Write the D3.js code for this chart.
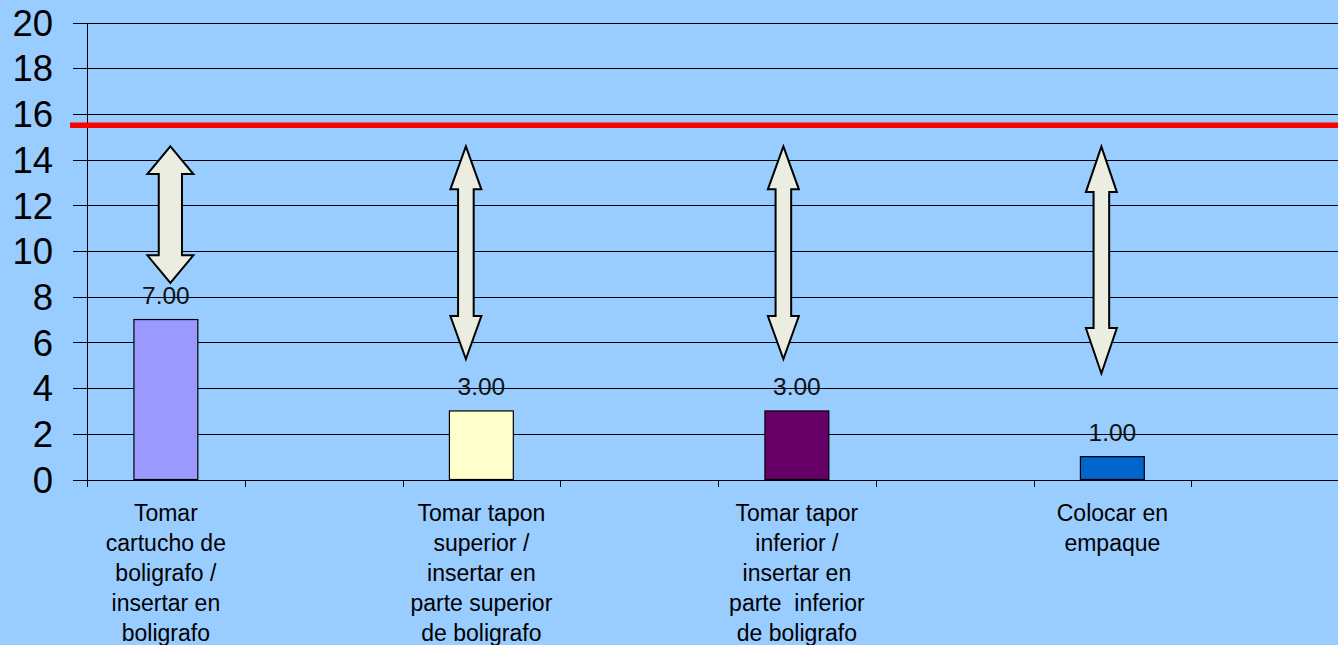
<!DOCTYPE html>
<html>
<head>
<meta charset="utf-8">
<script src="https://cdn.jsdelivr.net/npm/d3@7"></script>
<style>
  html, body { margin: 0; padding: 0; background: #99CCFF; overflow: hidden; }
  svg { display: block; font-family: "Liberation Sans", Arial, sans-serif; }
</style>
</head>
<body>
<svg id="chart" width="1338" height="645"></svg>
<script>
// ---- data ----
const categories = ["c0", "c1", "c2", "c3", "c4", "c5", "c6", "c7"];
const categoryLabels = [
  ["Tomar", "cartucho de", "boligrafo /", "insertar en", "boligrafo"],
  [],
  ["Tomar tapon", "superior /", "insertar en", "parte superior", "de boligrafo"],
  [],
  ["Tomar tapor", "inferior /", "insertar en", "parte  inferior", "de boligrafo"],
  [],
  ["Colocar en", "empaque"],
  []
];
const values = [7, null, 3, null, 3, null, 1, null];
const barColors = ["#9999FF", null, "#FFFFCC", null, "#660066", null, "#0066CC", null];
const yTicks = [0, 2, 4, 6, 8, 10, 12, 14, 16, 18, 20];
const limitValue = 15.5;
// double arrows (annotation): category, top value, bottom value
const arrowCats = ["c0", "c2", "c4", "c6"];
const arrowTops = [14.58, 14.58, 14.58, 14.57];
const arrowBottoms = [8.6, 5.27, 5.27, 4.64];

// ---- layout / style ----
const W = 1338, H = 645;
const mLeft = 87, mTop = 22.5, mBottom = 479.5, mRight = 87 + 8 * 157.75;
const arrowStyle = [
  { dx: 4.5, head: 27.7, hw: 23, sw: 11.6 },
  { dx: -15.5, head: 43, hw: 15.5, sw: 7.8 },
  { dx: -13.5, head: 43, hw: 15.5, sw: 7.8 },
  { dx: -11, head: 45.5, hw: 15.5, sw: 7.8 }
];

const svg = d3.select("#chart");
svg.append("rect").attr("width", W).attr("height", H).attr("fill", "#99CCFF");

const y = d3.scaleLinear().domain([0, 20]).range([mBottom, mTop]);
const x = d3.scaleBand().domain(categories).range([mLeft, mRight]).padding(0);
const xIdx = d3.scaleLinear().domain([0, categories.length]).range([mLeft, mRight]);
const bw = x.bandwidth();
const barW = bw * 0.405;

// gridlines
svg.append("g")
  .attr("transform", `translate(${mLeft},0)`)
  .call(d3.axisLeft(y).tickValues(yTicks).tickSize(-(mRight - mLeft)).tickFormat(""))
  .call(g => g.select(".domain").remove())
  .call(g => g.selectAll("line").attr("stroke", "#000").attr("stroke-width", 1).attr("shape-rendering", "crispEdges"));

// y axis
svg.append("g")
  .attr("transform", `translate(${mLeft},0)`)
  .call(d3.axisLeft(y).tickValues(yTicks).tickSize(14).tickSizeOuter(0).tickPadding(20).tickFormat(d3.format("d")))
  .call(g => g.select(".domain").attr("stroke", "#000").attr("shape-rendering", "crispEdges"))
  .call(g => g.selectAll("line").attr("stroke", "#000").attr("shape-rendering", "crispEdges"))
  .call(g => g.selectAll("text").attr("font-size", 36.5).attr("fill", "#000")
      .attr("font-family", "'Liberation Sans', Arial, sans-serif").attr("dy", "0.35em"));

// x axis (ticks at category boundaries)
svg.append("g")
  .attr("transform", `translate(0,${mBottom})`)
  .call(d3.axisBottom(xIdx).tickValues(d3.range(0, categories.length + 1)).tickSize(7).tickSizeOuter(0).tickFormat(""))
  .call(g => g.select(".domain").attr("stroke", "#000").attr("shape-rendering", "crispEdges"))
  .call(g => g.selectAll("line").attr("stroke", "#000").attr("shape-rendering", "crispEdges"));

// bars
const barData = categories.map((c, i) => ({ c, v: values[i], color: barColors[i] })).filter(d => d.v != null);
svg.append("g").selectAll("rect").data(barData).join("rect")
  .attr("x", d => x(d.c) + (bw - barW) / 2)
  .attr("y", d => y(d.v))
  .attr("width", barW)
  .attr("height", d => y(0) - y(d.v))
  .attr("fill", d => d.color)
  .attr("stroke", "#000").attr("stroke-width", 1.2);

// value labels
svg.append("g").selectAll("text").data(barData).join("text")
  .attr("x", d => x(d.c) + bw / 2)
  .attr("y", d => y(d.v) - 16)
  .attr("text-anchor", "middle")
  .attr("font-size", 24.5)
  .attr("fill", "#111")
  .text(d => d3.format(".2f")(d.v));

// category labels
const lab = svg.append("g");
categories.forEach((c, i) => {
  const t = lab.append("text")
    .attr("x", x(c) + bw / 2).attr("y", 520.5)
    .attr("text-anchor", "middle").attr("font-size", 23).attr("fill", "#000")
    .style("white-space", "pre");
  categoryLabels[i].forEach((line, k) => {
    t.append("tspan").attr("x", x(c) + bw / 2).attr("y", 520.5 + k * 30).text(line);
  });
});

// limit line
svg.append("line")
  .attr("x1", 70).attr("x2", W + 10)
  .attr("y1", y(limitValue)).attr("y2", y(limitValue))
  .attr("stroke", "#FF0000").attr("stroke-width", 5.5);

// arrows
const arrowData = arrowCats.map((c, i) => ({ c, t: arrowTops[i], b: arrowBottoms[i], s: arrowStyle[i] }));
svg.append("g").selectAll("path").data(arrowData).join("path")
  .attr("d", d => {
    const cx = x(d.c) + bw / 2 + d.s.dx;
    const yt = y(d.t), yb = y(d.b), h = d.s.head, hw = d.s.hw, sw = d.s.sw;
    return `M${cx},${yt} L${cx + hw},${yt + h} L${cx + sw},${yt + h} L${cx + sw},${yb - h} L${cx + hw},${yb - h} L${cx},${yb} ` +
           `L${cx - hw},${yb - h} L${cx - sw},${yb - h} L${cx - sw},${yt + h} L${cx - hw},${yt + h} Z`;
  })
  .attr("fill", "#ECEDE1")
  .attr("stroke", "#000")
  .attr("stroke-width", 2)
  .attr("stroke-linejoin", "miter");
</script>
</body>
</html>
